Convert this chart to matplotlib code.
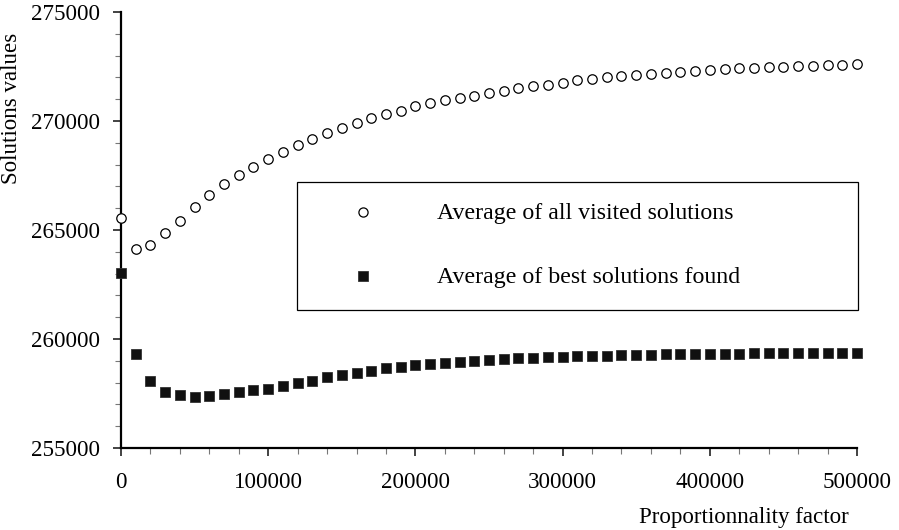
import matplotlib
matplotlib.use("Agg")
import matplotlib.pyplot as plt
from matplotlib.lines import Line2D
from matplotlib.patches import Rectangle
from matplotlib.ticker import MultipleLocator
import numpy as np

plt.rcParams['font.family'] = ['Liberation Serif', 'DejaVu Serif']

# proportionnality factor, one point every 10000
factor = np.arange(0, 500001, 10000)

# average of all visited solutions
visited = [265560, 264110, 264300, 264850, 265430, 266040, 266610, 267110, 267540, 267900,
           268240, 268560, 268900, 269160, 269430, 269690, 269910, 270140, 270310, 270460,
           270670, 270830, 270960, 271040, 271150, 271270, 271390, 271500, 271610, 271670,
           271760, 271870, 271940, 272000, 272060, 272110, 272160, 272210, 272260, 272300,
           272340, 272380, 272410, 272440, 272470, 272490, 272520, 272540, 272560, 272580,
           272600]

# average of best solutions found
best = [263040, 259310, 258070, 257580, 257420, 257350, 257400, 257460, 257550, 257650,
        257690, 257840, 258000, 258090, 258260, 258350, 258430, 258520, 258660, 258730,
        258790, 258870, 258900, 258960, 259000, 259050, 259090, 259120, 259150, 259170,
        259190, 259210, 259230, 259240, 259260, 259270, 259280, 259290, 259300, 259310,
        259320, 259330, 259330, 259340, 259350, 259350, 259360, 259360, 259370, 259370,
        259370]

labels = ["Average of all visited solutions", "Average of best solutions found"]

W, H = 899, 530
fs = 16.6
fig = plt.figure(figsize=(W / 100, H / 100), dpi=100)
ax = fig.add_axes([121 / W, 1 - 448 / H, (857 - 121) / W, (448 - 12) / H])

ax.plot(factor, visited, 'o', ms=6.8, mfc='white', mec='black', mew=0.9, clip_on=False, zorder=3)
ax.plot(factor, best, 's', ms=7.6, mfc='#111111', mec='#333333', mew=0.6, clip_on=False, zorder=3)

ax.set_xlim(0, 500000)
ax.set_ylim(255000, 275000)
ax.xaxis.set_major_locator(MultipleLocator(100000))
ax.xaxis.set_minor_locator(MultipleLocator(20000))
ax.yaxis.set_major_locator(MultipleLocator(5000))
ax.yaxis.set_minor_locator(MultipleLocator(1000))

for s in ['top', 'right']:
    ax.spines[s].set_visible(False)
for s in ['left', 'bottom']:
    ax.spines[s].set_linewidth(1.6)

ax.tick_params(which='major', length=6, width=1.2, color='#222222', labelsize=fs)
ax.tick_params(which='minor', length=4, width=0.8, color='#777777')
ax.tick_params(axis='x', which='major', pad=11)
ax.tick_params(axis='y', which='major', pad=9)

# axis titles placed like the original (y title at the top, x title at the right)
fig.text(12 / W, 1 - 33 / H, "Solutions values", fontsize=fs, rotation=90,
         ha='center', va='top')
fig.text(849 / W, 1 - 517 / H, "Proportionnality factor", fontsize=fs,
         ha='right', va='center')

# legend box drawn by hand
fig.patches.append(Rectangle((297 / W, 1 - 310 / H), (858 - 297) / W, (310 - 182) / H,
                             transform=fig.transFigure, fill=False, ec='black', lw=0.9))
fig.add_artist(Line2D([363 / W], [1 - 212 / H], marker='o', ms=6.6, mfc='white',
                      mec='black', mew=0.9, transform=fig.transFigure))
fig.add_artist(Line2D([363 / W], [1 - 276 / H], marker='s', ms=7.0, mfc='#111111',
                      mec='#333333', mew=0.6, transform=fig.transFigure))
fig.text(437 / W, 1 - 213 / H, labels[0], fontsize=17.2, va='center')
fig.text(437 / W, 1 - 277 / H, labels[1], fontsize=17.2, va='center')

fig.savefig("out.png", dpi=100)
